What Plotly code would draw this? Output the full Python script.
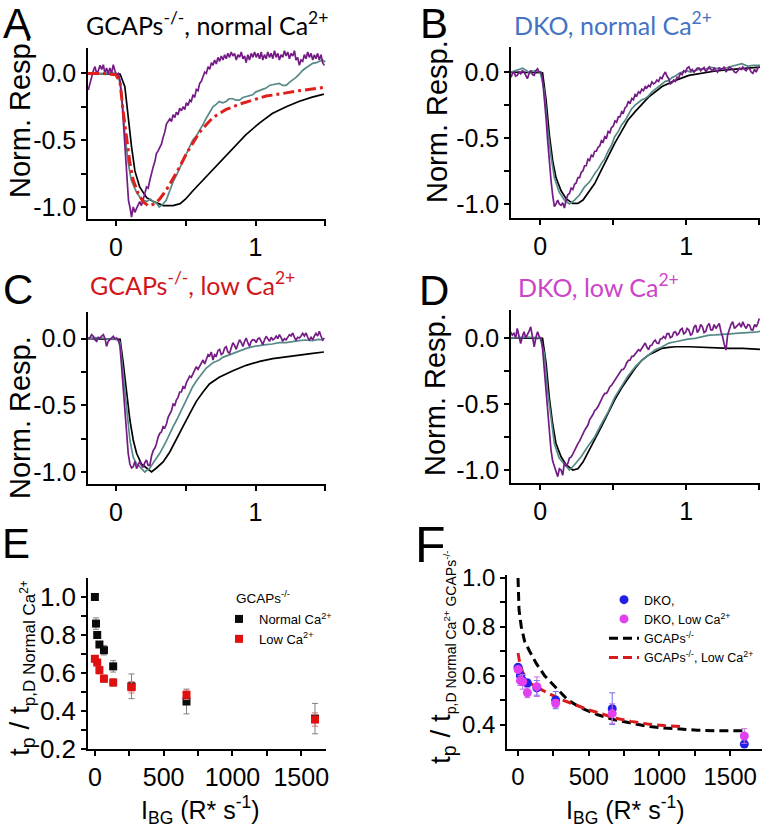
import plotly.graph_objects as go

W, H = 762, 827
ARIAL = "Liberation Sans, Arial, sans-serif"
CAL = "Lato, Open Sans, sans-serif"

PURPLE = "#741b86"
TEAL = "#568a88"
BLACK = "#000000"

# ---------------- Panel A : GCAPs-/-, normal Ca2+  (time s, normalized response) ----------------
A_black = [(-0.2, 0.0), (0.0, 0.0), (0.03, -0.005), (0.064, -0.1), (0.088, -0.33), (0.112, -0.55), (0.136, -0.73),
           (0.17, -0.85), (0.22, -0.93), (0.27, -0.96), (0.34, -0.99), (0.41, -0.99), (0.46, -0.975), (0.5, -0.94),
           (0.55, -0.88), (0.65, -0.77), (0.74, -0.67), (0.84, -0.56), (0.93, -0.46), (1.03, -0.37), (1.12, -0.3),
           (1.22, -0.25), (1.31, -0.21), (1.4, -0.18), (1.49, -0.155)]
A_teal = [(-0.2, 0.0), (-0.15, 0.005), (-0.1, -0.005), (-0.05, 0.005), (0.0, 0.0), (0.02, -0.03), (0.04, -0.15),
          (0.064, -0.45), (0.088, -0.67), (0.11, -0.8), (0.148, -0.89), (0.18, -0.94), (0.22, -0.96), (0.245, -0.94),
          (0.267, -0.96), (0.29, -0.97), (0.31, -1.0), (0.335, -0.98), (0.36, -0.95), (0.385, -0.88), (0.41, -0.81),
          (0.435, -0.76), (0.457, -0.71), (0.48, -0.66), (0.505, -0.6), (0.53, -0.54), (0.55, -0.5), (0.575, -0.47),
          (0.6, -0.43), (0.625, -0.38), (0.65, -0.33), (0.67, -0.29), (0.695, -0.25), (0.72, -0.23), (0.74, -0.21),
          (0.765, -0.22), (0.79, -0.21), (0.81, -0.19), (0.838, -0.19), (0.86, -0.2), (0.886, -0.2), (0.91, -0.18),
          (0.93, -0.175), (0.955, -0.17), (0.98, -0.16), (1.0, -0.14), (1.03, -0.125), (1.05, -0.12), (1.076, -0.11),
          (1.1, -0.09), (1.12, -0.085), (1.145, -0.08), (1.17, -0.075), (1.195, -0.09), (1.22, -0.09), (1.245, -0.065),
          (1.267, -0.05), (1.29, -0.03), (1.31, -0.01), (1.335, 0.02), (1.36, 0.04), (1.385, 0.055), (1.41, 0.075),
          (1.435, 0.08), (1.457, 0.09), (1.48, 0.1), (1.5, 0.085)]
A_purple = [(-0.198, -0.125), (-0.186, -0.07), (-0.174, -0.025), (-0.162, 0.02), (-0.15, 0.05), (-0.138, 0.0),
            (-0.126, 0.02), (-0.114, 0.06), (-0.102, 0.03), (-0.09, 0.065), (-0.079, 0.0), (-0.067, 0.04),
            (-0.055, 0.0), (-0.043, 0.04), (-0.031, 0.0), (-0.019, 0.065), (-0.007, 0.02), (0.005, -0.01),
            (0.017, 0.0), (0.029, -0.05), (0.04, -0.15), (0.048, -0.28), (0.056, -0.42), (0.064, -0.55),
            (0.072, -0.7), (0.081, -0.85), (0.09, -0.95), (0.1, -1.0), (0.112, -1.075), (0.124, -1.0),
            (0.136, -1.04), (0.148, -1.01), (0.16, -0.98), (0.171, -0.96), (0.183, -0.99), (0.195, -0.95),
            (0.207, -0.9), (0.219, -0.85), (0.231, -0.86), (0.243, -0.8), (0.255, -0.74), (0.267, -0.7),
            (0.279, -0.66), (0.29, -0.6), (0.302, -0.58), (0.314, -0.55), (0.326, -0.53), (0.338, -0.48),
            (0.35, -0.44), (0.362, -0.38), (0.374, -0.36), (0.386, -0.34), (0.398, -0.36), (0.41, -0.31),
            (0.422, -0.33), (0.433, -0.29), (0.445, -0.31), (0.457, -0.26), (0.469, -0.28), (0.481, -0.25),
            (0.493, -0.27), (0.505, -0.22), (0.517, -0.24), (0.529, -0.2), (0.54, -0.21), (0.552, -0.16),
            (0.564, -0.18), (0.576, -0.12), (0.588, -0.13), (0.6, -0.075), (0.612, -0.06), (0.624, -0.02),
            (0.636, 0.01), (0.648, 0.0), (0.66, 0.05), (0.672, 0.03), (0.684, 0.08), (0.695, 0.06), (0.707, 0.1),
            (0.719, 0.07), (0.731, 0.12), (0.743, 0.09), (0.755, 0.13), (0.767, 0.1), (0.779, 0.14), (0.79, 0.11),
            (0.802, 0.15), (0.814, 0.12), (0.826, 0.16), (0.838, 0.13), (0.85, 0.15), (0.862, 0.1), (0.874, 0.14),
            (0.886, 0.12), (0.898, 0.16), (0.91, 0.11), (0.922, 0.13), (0.933, 0.08), (0.945, 0.14), (0.957, 0.1),
            (0.969, 0.15), (0.981, 0.12), (0.993, 0.16), (1.005, 0.12), (1.017, 0.15), (1.029, 0.11), (1.041, 0.16),
            (1.052, 0.1), (1.064, 0.14), (1.076, 0.11), (1.088, 0.16), (1.1, 0.12), (1.112, 0.15), (1.124, 0.11),
            (1.136, 0.17), (1.148, 0.12), (1.16, 0.15), (1.171, 0.1), (1.183, 0.14), (1.195, 0.12), (1.207, 0.17),
            (1.219, 0.13), (1.231, 0.16), (1.243, 0.11), (1.255, 0.15), (1.267, 0.13), (1.279, 0.17), (1.29, 0.1),
            (1.302, 0.12), (1.314, 0.06), (1.326, 0.1), (1.338, 0.09), (1.35, 0.14), (1.362, 0.11), (1.374, 0.16),
            (1.386, 0.12), (1.398, 0.15), (1.41, 0.1), (1.422, 0.14), (1.433, 0.11), (1.445, 0.15), (1.457, 0.1),
            (1.469, 0.14), (1.481, 0.08), (1.493, 0.06)]
A_model = [(-0.2, 0.0), (-0.1, 0.0), (0.0, -0.01), (0.03, -0.07), (0.05, -0.27), (0.076, -0.5), (0.1, -0.67),
           (0.124, -0.8), (0.16, -0.9), (0.195, -0.96), (0.23, -0.99), (0.267, -0.98), (0.31, -0.945),
           (0.36, -0.875), (0.41, -0.79), (0.457, -0.7), (0.505, -0.6), (0.55, -0.52), (0.6, -0.44), (0.65, -0.38),
           (0.695, -0.33), (0.79, -0.27), (0.886, -0.23), (0.98, -0.2), (1.076, -0.17), (1.17, -0.155),
           (1.31, -0.13), (1.49, -0.105)]

# ---------------- Panel B : DKO, normal Ca2+ ----------------
B_black = [(-0.2, 0.0), (0.0, 0.0), (0.016, -0.005), (0.04, -0.21), (0.062, -0.47), (0.085, -0.67), (0.108, -0.8),
           (0.143, -0.9), (0.177, -0.96), (0.223, -0.995), (0.258, -0.995), (0.293, -0.97), (0.327, -0.92),
           (0.373, -0.845), (0.42, -0.74), (0.465, -0.64), (0.51, -0.54), (0.557, -0.45), (0.6, -0.365),
           (0.65, -0.3), (0.742, -0.19), (0.834, -0.11), (0.926, -0.063), (1.018, -0.025), (1.11, -0.008),
           (1.2, 0.008), (1.295, 0.018), (1.387, 0.025), (1.51, 0.038)]
B_teal = [(-0.2, 0.0), (-0.15, 0.02), (-0.12, 0.03), (-0.08, 0.0), (-0.04, 0.01), (0.0, 0.0), (0.028, -0.14),
          (0.05, -0.42), (0.074, -0.64), (0.097, -0.8), (0.13, -0.91), (0.166, -0.97), (0.2, -1.0), (0.235, -0.97),
          (0.27, -0.93), (0.304, -0.87), (0.34, -0.83), (0.373, -0.77), (0.4, -0.73), (0.42, -0.69), (0.44, -0.66),
          (0.465, -0.6), (0.49, -0.55), (0.51, -0.49), (0.535, -0.45), (0.557, -0.4), (0.58, -0.37), (0.6, -0.33),
          (0.625, -0.28), (0.65, -0.25), (0.675, -0.23), (0.696, -0.21), (0.72, -0.2), (0.742, -0.18),
          (0.765, -0.15), (0.788, -0.13), (0.81, -0.11), (0.834, -0.09), (0.857, -0.07), (0.88, -0.063),
          (0.905, -0.04), (0.926, -0.03), (0.95, -0.01), (0.972, 0.0), (1.0, 0.01), (1.03, 0.0), (1.06, 0.012),
          (1.1, 0.025), (1.13, 0.02), (1.16, 0.038), (1.2, 0.03), (1.25, 0.025), (1.3, 0.04), (1.34, 0.05),
          (1.38, 0.063), (1.42, 0.045), (1.46, 0.05), (1.51, 0.05)]
B_purple = [(-0.2, -0.04), (-0.19, -0.01), (-0.18, 0.0), (-0.168, -0.03), (-0.157, -0.025), (-0.145, 0.0),
            (-0.134, -0.013), (-0.122, 0.01), (-0.11, 0.0), (-0.099, -0.03), (-0.088, -0.05), (-0.076, -0.01),
            (-0.065, 0.013), (-0.053, -0.02), (-0.041, -0.025), (-0.03, 0.01), (-0.018, 0.025), (-0.007, 0.0),
            (0.005, 0.0), (0.016, -0.05), (0.028, -0.19), (0.04, -0.35), (0.051, -0.52), (0.062, -0.68),
            (0.074, -0.82), (0.085, -0.93), (0.097, -1.02), (0.108, -1.0), (0.12, -0.97), (0.131, -1.0),
            (0.143, -1.01), (0.154, -0.99), (0.166, -1.03), (0.177, -0.97), (0.189, -0.93), (0.2, -0.92),
            (0.212, -0.88), (0.223, -0.89), (0.235, -0.85), (0.246, -0.84), (0.258, -0.8), (0.27, -0.8),
            (0.281, -0.76), (0.292, -0.75), (0.304, -0.71), (0.315, -0.71), (0.327, -0.66), (0.338, -0.67),
            (0.35, -0.63), (0.361, -0.64), (0.373, -0.6), (0.384, -0.6), (0.396, -0.57), (0.408, -0.56),
            (0.419, -0.52), (0.431, -0.53), (0.442, -0.49), (0.454, -0.5), (0.465, -0.45), (0.477, -0.46),
            (0.488, -0.42), (0.5, -0.41), (0.512, -0.37), (0.523, -0.38), (0.535, -0.34), (0.546, -0.34),
            (0.558, -0.3), (0.569, -0.31), (0.581, -0.27), (0.592, -0.26), (0.604, -0.22), (0.615, -0.24),
            (0.627, -0.2), (0.638, -0.21), (0.65, -0.17), (0.661, -0.18), (0.673, -0.15), (0.684, -0.16),
            (0.696, -0.13), (0.707, -0.14), (0.719, -0.11), (0.73, -0.12), (0.742, -0.1), (0.753, -0.11),
            (0.765, -0.075), (0.776, -0.09), (0.788, -0.08), (0.799, -0.06), (0.811, -0.07), (0.822, -0.04),
            (0.834, -0.05), (0.845, -0.02), (0.857, 0.0), (0.868, -0.03), (0.88, -0.05), (0.891, -0.09),
            (0.903, -0.08), (0.914, -0.06), (0.926, -0.07), (0.937, -0.04), (0.949, -0.04), (0.96, -0.01),
            (0.972, -0.02), (0.983, 0.01), (0.995, 0.0), (1.006, 0.03), (1.018, 0.04), (1.03, 0.01), (1.041, 0.02),
            (1.053, 0.0), (1.065, 0.013), (1.076, 0.03), (1.088, 0.03), (1.099, 0.01), (1.111, 0.025),
            (1.122, 0.035), (1.134, 0.0), (1.145, 0.02), (1.157, 0.038), (1.168, 0.02), (1.18, 0.01), (1.191, 0.03),
            (1.203, 0.013), (1.214, 0.0), (1.226, 0.035), (1.237, 0.02), (1.249, 0.025), (1.26, 0.04), (1.272, 0.0),
            (1.283, 0.02), (1.295, 0.038), (1.306, 0.03), (1.318, 0.02), (1.33, 0.0), (1.341, -0.005),
            (1.353, 0.01), (1.364, 0.03), (1.376, 0.02), (1.387, 0.038), (1.399, 0.02), (1.41, 0.01), (1.422, 0.03),
            (1.433, 0.025), (1.445, 0.0), (1.456, -0.01), (1.468, 0.02), (1.479, 0.0), (1.49, 0.03), (1.5, 0.038)]

# ---------------- Panel C : GCAPs-/-, low Ca2+ ----------------
C_black = [(-0.2, 0.0), (0.0, 0.0), (0.03, -0.005), (0.052, -0.18), (0.076, -0.41), (0.1, -0.61), (0.124, -0.76),
           (0.148, -0.86), (0.183, -0.94), (0.22, -0.97), (0.255, -1.0), (0.29, -0.97), (0.338, -0.925),
           (0.386, -0.85), (0.433, -0.76), (0.48, -0.66), (0.53, -0.56), (0.576, -0.47), (0.624, -0.4),
           (0.67, -0.34), (0.74, -0.29), (0.838, -0.24), (0.933, -0.2), (1.03, -0.17), (1.124, -0.15),
           (1.22, -0.135), (1.314, -0.125), (1.41, -0.11), (1.49, -0.1)]
C_teal = [(-0.2, 0.0), (-0.15, 0.008), (-0.1, 0.005), (-0.05, -0.005), (0.0, 0.0), (0.03, -0.03), (0.052, -0.26),
          (0.076, -0.53), (0.1, -0.76), (0.124, -0.89), (0.148, -0.94), (0.17, -0.96), (0.207, -1.0),
          (0.243, -0.97), (0.28, -0.91), (0.314, -0.86), (0.36, -0.77), (0.385, -0.71), (0.41, -0.66),
          (0.435, -0.61), (0.457, -0.56), (0.48, -0.51), (0.505, -0.46), (0.53, -0.4), (0.55, -0.36), (0.575, -0.32),
          (0.6, -0.28), (0.625, -0.25), (0.648, -0.22), (0.67, -0.2), (0.695, -0.18), (0.72, -0.17), (0.74, -0.16),
          (0.765, -0.14), (0.79, -0.13), (0.815, -0.12), (0.838, -0.11), (0.86, -0.1), (0.886, -0.095),
          (0.93, -0.075), (0.98, -0.06), (1.03, -0.055), (1.076, -0.045), (1.12, -0.04), (1.17, -0.03),
          (1.22, -0.03), (1.267, -0.02), (1.31, -0.015), (1.36, -0.01), (1.41, -0.015), (1.45, -0.005),
          (1.49, -0.01)]
C_purple = [(-0.2, 0.0), (-0.186, 0.008), (-0.174, 0.03), (-0.162, 0.018), (-0.15, -0.01), (-0.138, -0.02),
            (-0.126, 0.01), (-0.114, 0.005), (-0.102, 0.02), (-0.09, 0.03), (-0.078, 0.0), (-0.067, -0.058),
            (-0.055, -0.02), (-0.043, -0.008), (-0.031, 0.01), (-0.019, 0.018), (-0.007, 0.0), (0.005, 0.005),
            (0.017, -0.01), (0.029, -0.058), (0.04, -0.2), (0.052, -0.36), (0.064, -0.54), (0.076, -0.71),
            (0.088, -0.86), (0.1, -0.94), (0.112, -0.97), (0.124, -0.96), (0.136, -0.92), (0.148, -0.975),
            (0.16, -0.94), (0.171, -0.92), (0.183, -0.95), (0.195, -0.965), (0.207, -0.93), (0.219, -0.91),
            (0.231, -0.95), (0.243, -0.95), (0.255, -0.88), (0.267, -0.84), (0.279, -0.82), (0.29, -0.79),
            (0.302, -0.74), (0.314, -0.71), (0.326, -0.7), (0.338, -0.66), (0.35, -0.67), (0.362, -0.64),
            (0.374, -0.59), (0.386, -0.56), (0.398, -0.54), (0.41, -0.49), (0.422, -0.5), (0.433, -0.46),
            (0.445, -0.44), (0.457, -0.4), (0.469, -0.4), (0.481, -0.36), (0.493, -0.37), (0.505, -0.33),
            (0.517, -0.31), (0.529, -0.28), (0.54, -0.29), (0.552, -0.26), (0.564, -0.24), (0.576, -0.21),
            (0.588, -0.23), (0.6, -0.21), (0.612, -0.18), (0.624, -0.16), (0.636, -0.19), (0.648, -0.16),
            (0.66, -0.12), (0.671, -0.13), (0.683, -0.1), (0.695, -0.16), (0.707, -0.12), (0.719, -0.13),
            (0.731, -0.09), (0.743, -0.08), (0.755, -0.12), (0.767, -0.11), (0.779, -0.07), (0.79, -0.06),
            (0.802, -0.1), (0.814, -0.11), (0.826, -0.06), (0.838, -0.03), (0.85, -0.05), (0.862, -0.08),
            (0.874, -0.04), (0.886, -0.008), (0.898, -0.03), (0.91, -0.058), (0.922, -0.02), (0.933, 0.005),
            (0.945, -0.03), (0.957, -0.058), (0.969, -0.02), (0.981, -0.008), (0.993, -0.01), (1.005, -0.03),
            (1.017, 0.0), (1.029, 0.005), (1.041, -0.02), (1.052, -0.045), (1.064, -0.01), (1.076, 0.018),
            (1.088, 0.0), (1.1, -0.02), (1.112, 0.01), (1.124, -0.008), (1.136, 0.0), (1.148, 0.02), (1.16, 0.0),
            (1.171, 0.03), (1.183, 0.01), (1.195, -0.02), (1.207, 0.0), (1.219, -0.008), (1.231, 0.01),
            (1.243, 0.03), (1.255, 0.02), (1.267, 0.043), (1.279, 0.01), (1.29, -0.01), (1.302, 0.01),
            (1.314, 0.005), (1.326, 0.02), (1.338, 0.04), (1.35, 0.02), (1.362, 0.043), (1.374, 0.01),
            (1.386, -0.01), (1.398, 0.01), (1.41, -0.008), (1.422, 0.02), (1.433, 0.04), (1.445, 0.02),
            (1.457, 0.055), (1.469, 0.02), (1.481, -0.01), (1.493, 0.005)]

# ---------------- Panel D : DKO, low Ca2+ ----------------
D_black = [(-0.2, 0.0), (0.0, 0.0), (0.016, -0.005), (0.04, -0.19), (0.062, -0.45), (0.085, -0.65), (0.108, -0.8),
           (0.143, -0.9), (0.177, -0.96), (0.223, -1.0), (0.258, -0.99), (0.293, -0.94), (0.327, -0.87),
           (0.373, -0.77), (0.42, -0.67), (0.465, -0.57), (0.51, -0.47), (0.557, -0.38), (0.6, -0.31),
           (0.65, -0.23), (0.696, -0.17), (0.742, -0.13), (0.788, -0.106), (0.834, -0.08), (0.88, -0.073),
           (0.926, -0.068), (1.018, -0.068), (1.11, -0.073), (1.2, -0.075), (1.295, -0.08), (1.387, -0.08),
           (1.51, -0.088)]
D_teal = [(-0.2, 0.0), (-0.1, 0.005), (0.0, 0.0), (0.028, -0.12), (0.05, -0.4), (0.074, -0.62), (0.097, -0.8),
          (0.13, -0.91), (0.166, -0.96), (0.2, -1.0), (0.235, -0.96), (0.28, -0.9), (0.327, -0.82), (0.373, -0.75),
          (0.42, -0.65), (0.465, -0.56), (0.51, -0.45), (0.557, -0.37), (0.6, -0.29), (0.65, -0.22), (0.696, -0.17),
          (0.742, -0.13), (0.788, -0.09), (0.834, -0.07), (0.88, -0.04), (0.926, -0.03), (0.97, -0.018),
          (1.01, -0.01), (1.06, -0.005), (1.11, 0.01), (1.157, 0.02), (1.2, 0.022), (1.25, 0.028), (1.3, 0.03),
          (1.34, 0.033), (1.39, 0.035), (1.43, 0.038), (1.47, 0.042), (1.51, 0.05)]
D_purple = [(-0.203, 0.045), (-0.191, 0.02), (-0.18, 0.033), (-0.168, 0.0), (-0.157, 0.07), (-0.145, 0.02),
            (-0.134, -0.043), (-0.122, 0.01), (-0.111, 0.045), (-0.099, 0.0), (-0.088, 0.02), (-0.076, 0.05),
            (-0.065, 0.083), (-0.053, 0.0), (-0.041, -0.068), (-0.03, 0.0), (-0.018, 0.045), (-0.007, 0.01),
            (0.005, -0.005), (0.016, -0.08), (0.028, -0.24), (0.04, -0.41), (0.051, -0.57), (0.062, -0.72),
            (0.074, -0.85), (0.085, -0.93), (0.097, -0.97), (0.108, -1.01), (0.12, -1.05), (0.131, -0.99),
            (0.143, -1.0), (0.154, -1.04), (0.166, -0.94), (0.177, -0.97), (0.189, -0.95), (0.2, -0.91),
            (0.212, -0.9), (0.223, -0.88), (0.235, -0.85), (0.246, -0.83), (0.258, -0.8), (0.27, -0.78),
            (0.281, -0.75), (0.292, -0.72), (0.304, -0.7), (0.315, -0.68), (0.327, -0.66), (0.338, -0.62),
            (0.35, -0.6), (0.361, -0.58), (0.373, -0.55), (0.384, -0.54), (0.396, -0.52), (0.408, -0.49),
            (0.419, -0.47), (0.431, -0.44), (0.442, -0.42), (0.454, -0.42), (0.465, -0.4), (0.477, -0.37),
            (0.488, -0.36), (0.5, -0.34), (0.512, -0.32), (0.523, -0.3), (0.535, -0.28), (0.546, -0.27),
            (0.558, -0.24), (0.569, -0.24), (0.581, -0.22), (0.592, -0.19), (0.604, -0.17), (0.615, -0.17),
            (0.627, -0.14), (0.638, -0.14), (0.65, -0.12), (0.661, -0.1), (0.673, -0.09), (0.684, -0.1),
            (0.696, -0.08), (0.707, -0.06), (0.719, -0.04), (0.73, -0.07), (0.742, -0.09), (0.753, -0.06),
            (0.765, -0.055), (0.776, -0.03), (0.788, -0.018), (0.799, -0.04), (0.811, -0.043), (0.822, -0.01),
            (0.834, -0.005), (0.845, 0.01), (0.857, -0.005), (0.868, 0.03), (0.88, 0.033), (0.891, 0.0),
            (0.903, 0.008), (0.914, 0.04), (0.926, 0.045), (0.937, 0.02), (0.949, 0.033), (0.96, 0.06),
            (0.972, 0.07), (0.983, 0.03), (0.995, 0.04), (1.006, 0.07), (1.018, 0.058), (1.03, 0.02),
            (1.041, 0.03), (1.053, 0.08), (1.065, 0.096), (1.076, 0.04), (1.088, 0.06), (1.099, 0.1),
            (1.111, 0.083), (1.122, 0.04), (1.134, 0.05), (1.145, 0.09), (1.157, 0.108), (1.168, 0.06),
            (1.18, 0.06), (1.191, 0.1), (1.203, 0.07), (1.214, 0.09), (1.226, 0.108), (1.237, 0.05),
            (1.249, 0.008), (1.26, -0.05), (1.272, -0.093), (1.283, 0.02), (1.295, 0.07), (1.306, 0.1),
            (1.318, 0.121), (1.33, 0.07), (1.341, 0.083), (1.353, 0.1), (1.364, 0.108), (1.376, 0.08),
            (1.387, 0.121), (1.399, 0.09), (1.41, 0.07), (1.422, 0.1), (1.433, 0.096), (1.445, 0.06),
            (1.456, 0.058), (1.468, 0.1), (1.479, 0.083), (1.49, 0.11), (1.5, 0.146)]

# ---------------- Panel E : t_p / t_p,D  vs  I_BG  (GCAPs-/-) ----------------
E_ibg_normal = [0, 8, 17, 33, 66, 133, 266, 666, 1600]
E_tp_normal = [1.0, 0.86, 0.80, 0.75, 0.72, 0.635, 0.53, 0.45, 0.36]
E_err_normal = [0.0, 0.03, 0.015, 0.015, 0.025, 0.03, 0.065, 0.065, 0.08]
E_ibg_low = [0, 17, 33, 66, 133, 266, 666, 1600]
E_tp_low = [0.675, 0.655, 0.615, 0.57, 0.55, 0.525, 0.485, 0.355]
E_err_low = [0.015, 0.015, 0.02, 0.02, 0.02, 0.03, 0.025, 0.035]

# ---------------- Panel F : DKO points and GCAPs-/- fits ----------------
F_ibg = [0, 17, 33, 66, 133, 266, 666, 1600]
F_tp_dko = [0.635, 0.60, 0.58, 0.57, 0.55, 0.50, 0.465, 0.32]
F_err_dko = [0.01, 0.02, 0.02, 0.015, 0.03, 0.035, 0.065, 0.01]
F_tp_dko_low = [0.625, 0.58, 0.575, 0.53, 0.555, 0.487, 0.445, 0.353]
F_err_dko_low = [0.01, 0.02, 0.03, 0.02, 0.04, 0.015, 0.04, 0.03]
F_fit_gcaps_x = [0, 2, 7, 23, 47, 82, 129, 188, 258, 352, 446, 563, 681, 798, 915, 1033, 1150, 1268, 1385, 1526, 1600]
F_fit_gcaps_y = [1.0, 0.95, 0.87, 0.80, 0.74, 0.70, 0.65, 0.60, 0.557, 0.50, 0.468, 0.44, 0.42, 0.407, 0.393,
                 0.386, 0.38, 0.377, 0.375, 0.375, 0.375]
F_fit_low_x = [0, 12, 35, 82, 141, 211, 305, 400, 493, 587, 681, 798, 915, 1033, 1160]
F_fit_low_y = [0.693, 0.652, 0.611, 0.57, 0.55, 0.53, 0.502, 0.482, 0.461, 0.445, 0.427, 0.413, 0.402, 0.396, 0.392]

fig = go.Figure()


def trace_line(pairs, ax, color, width=1.7, dash=None):
    t = [p[0] for p in pairs]
    v = [p[1] for p in pairs]
    fig.add_trace(go.Scatter(x=t, y=v, mode="lines", line=dict(color=color, width=width, dash=dash),
                             xaxis="x" + ax, yaxis="y" + ax, showlegend=False, hoverinfo="skip"))


# A
trace_line(A_black, "", BLACK)
trace_line(A_teal, "", TEAL)
trace_line(A_purple, "", PURPLE)
trace_line(A_model, "", "#e0201c", width=3, dash="11px,4px,3px,4px")
# B
trace_line(B_black, "2", BLACK)
trace_line(B_teal, "2", TEAL)
trace_line(B_purple, "2", PURPLE)
# C
trace_line(C_black, "3", BLACK)
trace_line(C_teal, "3", TEAL)
trace_line(C_purple, "3", PURPLE)
# D
trace_line(D_black, "4", BLACK)
trace_line(D_teal, "4", TEAL)
trace_line(D_purple, "4", PURPLE)

# E
fig.add_trace(go.Scatter(x=E_ibg_normal, y=E_tp_normal, mode="markers", name="Normal Ca<sup>2+</sup>",
                         marker=dict(symbol="square", size=8, color="#0a0a0a"),
                         error_y=dict(type="data", array=E_err_normal, color="#808080", thickness=1, width=3),
                         xaxis="x5", yaxis="y5", legend="legend", legendrank=1))
fig.add_trace(go.Scatter(x=E_ibg_low, y=E_tp_low, mode="markers", name="Low Ca<sup>2+</sup>",
                         marker=dict(symbol="square", size=8, color="#e01010"),
                         error_y=dict(type="data", array=E_err_low, color="#c87a7a", thickness=1, width=3),
                         xaxis="x5", yaxis="y5", legend="legend", legendrank=2))

# F
fig.add_trace(go.Scatter(x=F_fit_gcaps_x, y=F_fit_gcaps_y, mode="lines", name="GCAPs<sup>-/-</sup>",
                         line=dict(color="#000000", width=3, dash="9px,5px"),
                         xaxis="x6", yaxis="y6", legend="legend2", legendrank=3))
fig.add_trace(go.Scatter(x=F_fit_low_x, y=F_fit_low_y, mode="lines", name="GCAPs<sup>-/-</sup>, Low Ca<sup>2+</sup>",
                         line=dict(color="#d81c1c", width=3, dash="9px,5px"),
                         xaxis="x6", yaxis="y6", legend="legend2", legendrank=4))
fig.add_trace(go.Scatter(x=F_ibg, y=F_tp_dko, mode="markers", name="DKO,",
                         marker=dict(symbol="circle", size=9, color="#1f1fe8"),
                         error_y=dict(type="data", array=F_err_dko, color="#7070e8", thickness=1, width=3),
                         xaxis="x6", yaxis="y6", legend="legend2", legendrank=1))
fig.add_trace(go.Scatter(x=F_ibg, y=F_tp_dko_low, mode="markers", name="DKO, Low Ca<sup>2+</sup>",
                         marker=dict(symbol="circle", size=9, color="#e23ff0"),
                         error_y=dict(type="data", array=F_err_dko_low, color="#c070e0", thickness=1, width=3),
                         xaxis="x6", yaxis="y6", legend="legend2", legendrank=2))


def px_x(a, b):
    return [a / W, b / W]


def px_y(top, bottom):
    return [1 - bottom / H, 1 - top / H]


def tfont(size):
    return dict(family=ARIAL, size=size, color="black")


def axis(**kw):
    d = dict(showline=True, linecolor="black", linewidth=1.5, ticks="outside", ticklen=5, tickwidth=1.5,
             tickcolor="black", showgrid=False, zeroline=False, fixedrange=True, tickfont=tfont(25))
    d.update(kw)
    return d


def minor(vals):
    return dict(tickmode="array", tickvals=vals, ticks="outside", ticklen=5, tickwidth=1.5, tickcolor="black",
                showgrid=False)


trace_xticks = dict(tickmode="array", tickvals=[0, 1], ticktext=["0", "1"], minor=minor([0.5, 1.5]))
trace_yticks = dict(tickmode="array", tickvals=[-1, -0.5, 0], ticktext=["-1.0", "-0.5", "0.0"],
                    minor=minor([-0.75, -0.25]))
ibg_ticks = dict(tickmode="array", tickvals=[0, 500, 1000, 1500], ticktext=["0", "500", "1000", "1500"],
                 minor=minor([250, 750, 1250]))

layout = dict(
    width=W, height=H,
    margin=dict(l=0, r=0, t=0, b=0, autoexpand=False),
    paper_bgcolor="white", plot_bgcolor="rgba(0,0,0,0)",
    xaxis=axis(domain=px_x(88, 326), range=[-0.2, 1.505], anchor="y", **trace_xticks),
    yaxis=axis(domain=px_y(48, 219), range=[-1.09, 0.19], anchor="x", **trace_yticks),
    xaxis2=axis(domain=px_x(511, 760), range=[-0.2, 1.505], anchor="y2", **trace_xticks),
    yaxis2=axis(domain=px_y(47, 218), range=[-1.106, 0.19], anchor="x2", **trace_yticks),
    xaxis3=axis(domain=px_x(88, 326), range=[-0.2, 1.505], anchor="y3", **trace_xticks),
    yaxis3=axis(domain=px_y(312, 484), range=[-1.09, 0.2], anchor="x3", **trace_yticks),
    xaxis4=axis(domain=px_x(511, 760), range=[-0.2, 1.505], anchor="y4", **trace_xticks),
    yaxis4=axis(domain=px_y(310, 483), range=[-1.098, 0.21], anchor="x4", **trace_yticks),
    xaxis5=axis(domain=px_x(88, 326), range=[-50, 1680], anchor="y5", tickfont=tfont(25), **ibg_ticks),
    yaxis5=axis(domain=px_y(578, 749), range=[0.2, 1.1], anchor="x5", tickfont=tfont(26),
                tickmode="array", tickvals=[0.2, 0.4, 0.6, 0.8, 1.0],
                ticktext=["0.2", "0.4", "0.6", "0.8", "1.0"], minor=minor([0.3, 0.5, 0.7, 0.9])),
    xaxis6=axis(domain=px_x(507, 762), range=[-78, 1725], anchor="y6", tickfont=tfont(24), **ibg_ticks),
    yaxis6=axis(domain=px_y(575, 749), range=[0.3, 1.012], anchor="x6", tickfont=tfont(24),
                tickmode="array", tickvals=[0.4, 0.6, 0.8, 1.0],
                ticktext=["0.4", "0.6", "0.8", "1.0"], minor=minor([0.5, 0.7, 0.9])),
    legend=dict(x=219 / W, y=1 - 604 / H, xanchor="left", yanchor="top", bgcolor="rgba(0,0,0,0)",
                borderwidth=0, font=dict(family=ARIAL, size=13, color="black"), traceorder="normal"),
    legend2=dict(x=604 / W, y=1 - 585 / H, xanchor="left", yanchor="top", bgcolor="rgba(0,0,0,0)",
                 borderwidth=0, font=dict(family=ARIAL, size=12.5, color="black"), traceorder="normal"),
    showlegend=True,
)

ann = []


def text(s, px, py, size, color="black", family=ARIAL, angle=0, xanchor="center", yanchor="middle"):
    ann.append(dict(text=s, x=px / W, y=1 - py / H, xref="paper", yref="paper", showarrow=False,
                    font=dict(size=size, color=color, family=family), textangle=angle,
                    xanchor=xanchor, yanchor=yanchor))


# panel letters
text("A", 17, 23, 42)
text("B", 434, 23, 42)
text("C", 18, 289, 42)
text("D", 434, 290, 42)
text("E", 16, 543, 42)
text("F", 431, 545, 50)

# panel titles
text("GCAPs<sup>-/-</sup>, normal Ca<sup>2+</sup>", 207, 23, 25, color="#000000", family=CAL)
text("DKO, normal Ca<sup>2+</sup>", 613, 23, 25, color="#4472c4", family=CAL)
text("GCAPs<sup>-/-</sup>, low Ca<sup>2+</sup>", 193, 284, 25, color="#d0161a", family=CAL)
text("DKO, low Ca<sup>2+</sup>", 598, 285, 25, color="#cc44c8", family=CAL)

# y titles of trace panels
text("Norm. Resp.", 20, 117, 29, angle=-90)
text("Norm. Resp.", 437, 122, 29, angle=-90)
text("Norm. Resp.", 20, 418, 29, angle=-90)
text("Norm. Resp.", 435, 395, 29, angle=-90)

# E / F axis titles
text("t<sub>p</sub> / t<sub><span style='font-size:17px'>p,D Normal Ca<sup>2+</sup></span></sub>",
     21, 668, 28, angle=-90)
text("t<sub>p</sub> / t<sub><span style='font-size:14px'>p,D Normal Ca<sup>2+</sup> GCAPs<sup>-/-</sup></span></sub>",
     442, 658, 28, angle=-90)
text("I<sub>BG</sub> (R* s<sup>-1</sup>)", 200, 810, 25)
text("I<sub>BG</sub> (R* s<sup>-1</sup>)", 625, 810, 25)

# legend heading of panel E
text("GCAPs<sup>-/-</sup>", 234, 597, 13.5, xanchor="left")

layout["annotations"] = ann
fig.update_layout(**layout)
fig.write_html("out.html", config={"displayModeBar": False},
               post_script="document.body.style.margin='0px';")
